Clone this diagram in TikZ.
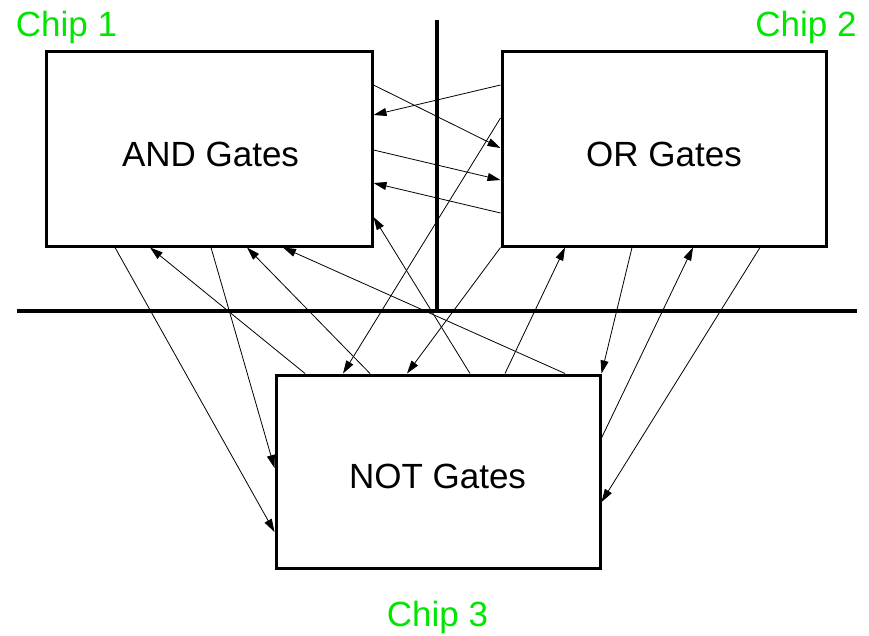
\documentclass[tikz,border=0pt]{standalone}
\usepackage{fontspec}
\setmainfont{Liberation Sans}
\usetikzlibrary{arrows.meta}
\definecolor{chipgreen}{RGB}{0,230,0}
\begin{document}
\begin{tikzpicture}[x=1pt,y=-1pt,
  box/.style={draw,line width=3pt,rectangle,inner sep=0pt},
  divider/.style={line width=4pt},
  wire/.style={line width=0.8pt,-{Triangle[length=13pt,width=8pt]}},
  lbl/.style={font=\fontsize{35}{40}\selectfont,inner sep=0pt,anchor=base},
  chip/.style={lbl,text=chipgreen}]
\useasboundingbox (0,0) rectangle (869,636);
% boxes
\node[box,minimum width=326pt,minimum height=194pt] (and) at (209,149) {};
\node[box,minimum width=324pt,minimum height=194pt] (or) at (664,149) {};
\node[box,minimum width=324pt,minimum height=193pt] (not) at (438,471.5) {};
% texts
\node[lbl] (andt) at (210.5,167) {AND Gates};
\node[lbl] (ort) at (664,167) {OR Gates};
\node[lbl] (nott) at (437.5,488) {NOT Gates};
\node[chip] (c1) at (66.5,36.5) {Chip 1};
\node[chip] (c2) at (806,36.5) {Chip 2};
\node[chip] (c3) at (437.5,626.5) {Chip 3};
% dividers
\draw[divider] (437,20) -- (437,311);
\draw[divider] (17,311) -- (857,311);
% connectors
\draw[wire] (and.east |- 0,85) -- (or.west |- 0,148);
\draw[wire] (or.west |- 0,85) -- (and.east |- 0,115);
\draw[wire] (and.east |- 0,150) -- (or.west |- 0,180);
\draw[wire] (or.west |- 0,213) -- (and.east |- 0,183);
\draw[wire] (or.west |- 0,118) -- (not.north -| 343,0);
\draw[wire] (not.north -| 470,0) -- (and.east |- 0,217);
\draw[wire] (not.north -| 305,0) -- (and.south -| 150,0);
\draw[wire] (not.north -| 370,0) -- (and.south -| 247,0);
\draw[wire] (or.south west) -- (not.north -| 407,0);
\draw[wire] (not.north -| 505,0) -- (or.south -| 565,0);
\draw[wire] (not.north -| 565,0) -- (and.south -| 283,0);
\draw[wire] (or.south -| 632,0) -- (not.north east);
\draw[wire] (not.east |- 0,438) -- (or.south -| 693,0);
\draw[wire] (or.south -| 760,0) -- (not.east |- 0,502);
\draw[wire] (and.south -| 115,0) -- (not.west |- 0,532);
\draw[wire] (and.south -| 211,0) -- (not.west |- 0,468);
\end{tikzpicture}
\end{document}
